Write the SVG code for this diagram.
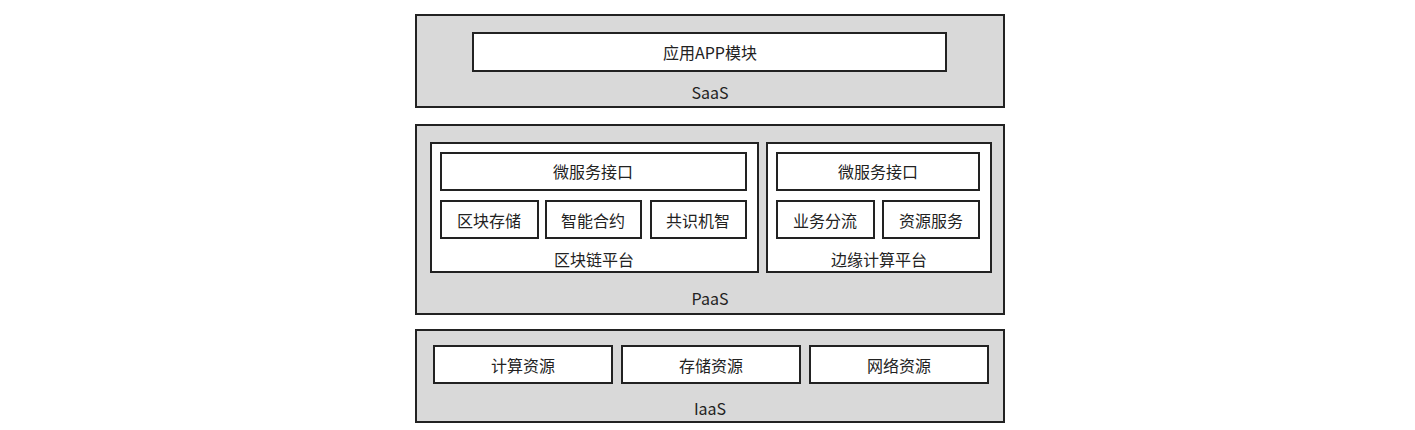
<svg xmlns="http://www.w3.org/2000/svg" width="1415" height="430" viewBox="0 0 1415 430">
<style>
.outer{fill:#d9d9d9;stroke:#222;stroke-width:2}
.box{fill:#fff;stroke:#222;stroke-width:2}
text{font-family:"Noto Sans CJK SC","Liberation Sans",sans-serif;font-size:16px;fill:#222;text-anchor:middle;dominant-baseline:central}
</style>
<rect width="1415" height="430" fill="#fff"/>
<g id="saas"><rect class="outer" x="416" y="15" width="588" height="92"/><text x="710" y="92">SaaS</text></g>
<g id="app"><rect class="box" x="473" y="33" width="473" height="38"/><text x="710" y="52">应用APP模块</text></g>
<g id="paas"><rect class="outer" x="416" y="125" width="588" height="189"/><text x="710" y="298">PaaS</text></g>
<g id="blockchain"><rect class="box" x="431" y="143" width="327" height="129"/><text x="594" y="259">区块链平台</text></g>
<g id="bc-api"><rect class="box" x="441" y="153" width="305" height="37"/><text x="593" y="171">微服务接口</text></g>
<g id="bc-store"><rect class="box" x="441" y="201" width="97" height="37"/><text x="489" y="220">区块存储</text></g>
<g id="bc-contract"><rect class="box" x="546" y="201" width="95" height="37"/><text x="593" y="220">智能合约</text></g>
<g id="bc-consensus"><rect class="box" x="651" y="201" width="95" height="37"/><text x="698" y="220">共识机智</text></g>
<g id="edge"><rect class="box" x="767" y="143" width="224" height="129"/><text x="879" y="259">边缘计算平台</text></g>
<g id="edge-api"><rect class="box" x="777" y="153" width="202" height="37"/><text x="878" y="171">微服务接口</text></g>
<g id="edge-split"><rect class="box" x="777" y="201" width="97" height="37"/><text x="825" y="220">业务分流</text></g>
<g id="edge-res"><rect class="box" x="883" y="201" width="96" height="37"/><text x="931" y="220">资源服务</text></g>
<g id="iaas"><rect class="outer" x="416" y="330" width="588" height="92"/><text x="710" y="408">IaaS</text></g>
<g id="compute"><rect class="box" x="434" y="346" width="178" height="37"/><text x="523" y="365">计算资源</text></g>
<g id="storage"><rect class="box" x="622" y="346" width="178" height="37"/><text x="711" y="365">存储资源</text></g>
<g id="network"><rect class="box" x="810" y="346" width="178" height="37"/><text x="899" y="365">网络资源</text></g>
<g id="connectors"/>
</svg>
